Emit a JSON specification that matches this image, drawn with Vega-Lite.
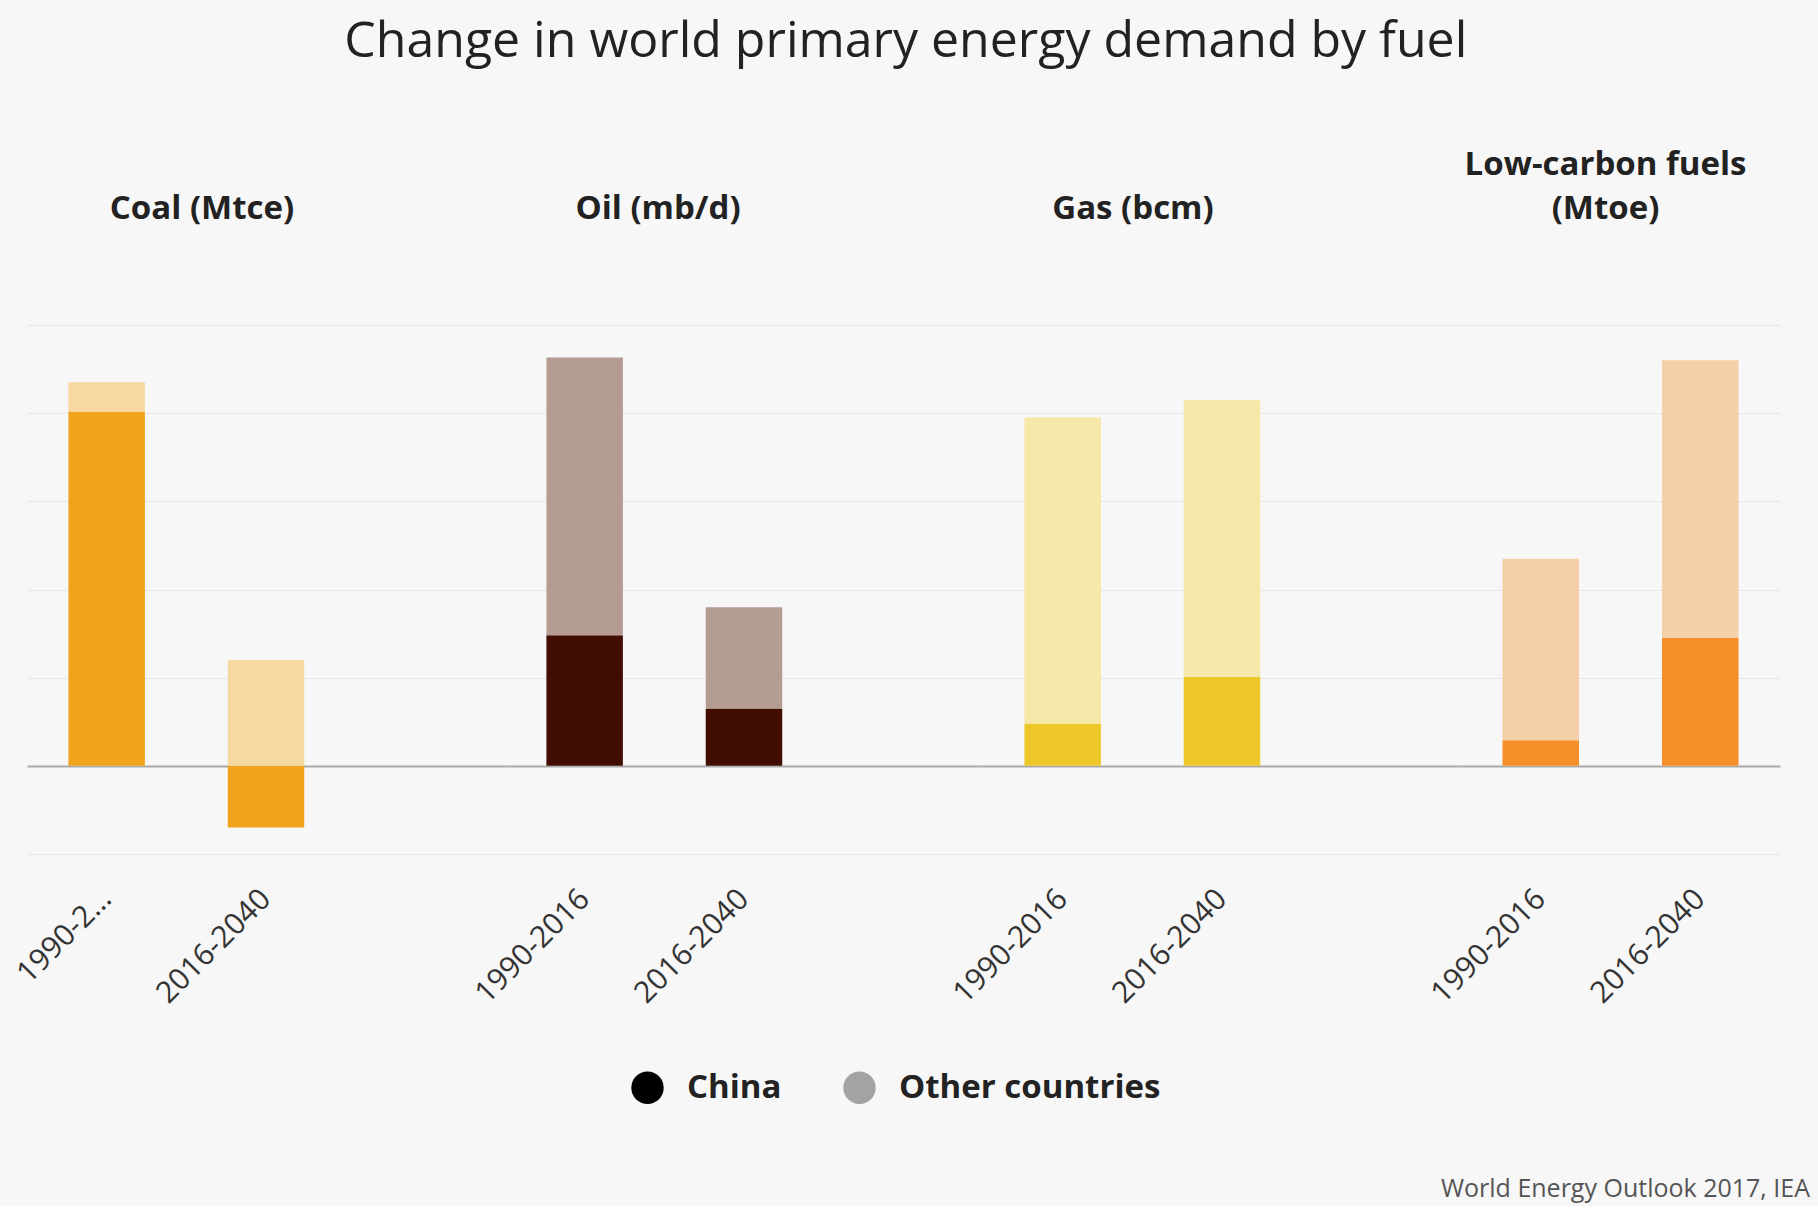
{
  "$schema": "https://vega.github.io/schema/vega-lite/v6.json",
  "description": "Change in world primary energy demand by fuel, China vs other countries",
  "background": "#f7f7f7",
  "padding": {"left": 11, "top": 17, "right": 36, "bottom": 4},
  "datasets": {
    "energy": [
      {"fuel": "Coal", "period": "1990-2016", "region": "China", "change": 4.02},
      {"fuel": "Coal", "period": "1990-2016", "region": "Other countries", "change": 0.33},
      {"fuel": "Coal", "period": "2016-2040", "region": "China", "change": -0.70},
      {"fuel": "Coal", "period": "2016-2040", "region": "Other countries", "change": 1.20},
      {"fuel": "Oil", "period": "1990-2016", "region": "China", "change": 1.48},
      {"fuel": "Oil", "period": "1990-2016", "region": "Other countries", "change": 3.15},
      {"fuel": "Oil", "period": "2016-2040", "region": "China", "change": 0.65},
      {"fuel": "Oil", "period": "2016-2040", "region": "Other countries", "change": 1.15},
      {"fuel": "Gas", "period": "1990-2016", "region": "China", "change": 0.48},
      {"fuel": "Gas", "period": "1990-2016", "region": "Other countries", "change": 3.47},
      {"fuel": "Gas", "period": "2016-2040", "region": "China", "change": 1.01},
      {"fuel": "Gas", "period": "2016-2040", "region": "Other countries", "change": 3.14},
      {"fuel": "Low-carbon", "period": "1990-2016", "region": "China", "change": 0.29},
      {"fuel": "Low-carbon", "period": "1990-2016", "region": "Other countries", "change": 2.06},
      {"fuel": "Low-carbon", "period": "2016-2040", "region": "China", "change": 1.45},
      {"fuel": "Low-carbon", "period": "2016-2040", "region": "Other countries", "change": 3.15}
    ]
  },
  "title": {
    "text": "World Energy Outlook 2017, IEA",
    "orient": "bottom",
    "anchor": "end",
    "fontSize": 25,
    "fontWeight": "normal",
    "color": "#555555",
    "dx": 30,
    "offset": 72
  },
  "vconcat": [
    {
      "title": {
        "text": "Change in world primary energy demand by fuel",
        "anchor": "middle",
        "dx": 10,
        "fontSize": 50,
        "fontWeight": "normal",
        "color": "#222222",
        "offset": 82
      },
      "spacing": 0,
      "bounds": "flush",
      "resolve": {"scale": {"fill": "independent"}},
      "hconcat": [
        {
          "width": 478,
          "height": 529,
          "title": {"text": "Coal (Mtce)", "dx": -64},
          "data": {"name": "energy"},
          "transform": [{"filter": "datum.fuel === 'Coal'"}],
          "layer": [
            {
              "mark": "bar",
              "encoding": {
                "x": {
                  "field": "period",
                  "type": "nominal",
                  "scale": {"domain": ["1990-2016", "2016-2040"], "paddingInner": 0.52, "paddingOuter": 0.76, "align": 0.171},
                  "axis": {"labelExpr": "datum.value === '1990-2016' ? '1990-2…' : datum.value"}
                },
                "y": {
                  "field": "change",
                  "type": "quantitative",
                  "stack": "zero",
                  "scale": {"domain": [-1, 5], "nice": false},
                  "axis": {
                    "values": [-1, 0, 1, 2, 3, 4, 5],
                    "gridColor": {"condition": {"test": "datum.value === 0", "value": "#aaaaaa"}, "value": "#e6e6e6"},
                    "gridWidth": {"condition": {"test": "datum.value === 0", "value": 2}, "value": 1}
                  }
                },
                "fill": {
                  "field": "region",
                  "type": "nominal",
                  "scale": {"domain": ["China", "Other countries"], "range": ["#f0a41c", "#f6d8a0"]},
                  "legend": null
                },
                "order": {"field": "region", "sort": "ascending"}
              }
            },
            {
              "mark": {"type": "point", "filled": true, "opacity": 0},
              "encoding": {
                "x": {"field": "period", "type": "nominal"},
                "y": {"field": "change", "type": "quantitative"},
                "color": {
                  "field": "region",
                  "type": "nominal",
                  "scale": {"domain": ["China", "Other countries"], "range": ["#000000", "#a3a3a3"]},
                  "legend": {"title": null}
                }
              }
            }
          ]
        },
        {
          "width": 478,
          "height": 529,
          "title": {"text": "Oil (mb/d)", "dx": -86},
          "data": {"name": "energy"},
          "transform": [{"filter": "datum.fuel === 'Oil'"}],
          "mark": "bar",
          "encoding": {
            "x": {
              "field": "period",
              "type": "nominal",
              "scale": {"domain": ["1990-2016", "2016-2040"], "paddingInner": 0.52, "paddingOuter": 0.76, "align": 0.171}
            },
            "y": {
              "field": "change",
              "type": "quantitative",
              "stack": "zero",
              "scale": {"domain": [-1, 5], "nice": false},
              "axis": {
                "values": [-1, 0, 1, 2, 3, 4, 5],
                "gridColor": {"condition": {"test": "datum.value === 0", "value": "#aaaaaa"}, "value": "#e6e6e6"},
                "gridWidth": {"condition": {"test": "datum.value === 0", "value": 2}, "value": 1}
              }
            },
            "fill": {
              "field": "region",
              "type": "nominal",
              "scale": {"domain": ["China", "Other countries"], "range": ["#410d02", "#b49c92"]},
              "legend": null
            },
            "order": {"field": "region", "sort": "ascending"}
          }
        },
        {
          "width": 478,
          "height": 529,
          "title": {"text": "Gas (bcm)", "dx": -89},
          "data": {"name": "energy"},
          "transform": [{"filter": "datum.fuel === 'Gas'"}],
          "mark": "bar",
          "encoding": {
            "x": {
              "field": "period",
              "type": "nominal",
              "scale": {"domain": ["1990-2016", "2016-2040"], "paddingInner": 0.52, "paddingOuter": 0.76, "align": 0.171}
            },
            "y": {
              "field": "change",
              "type": "quantitative",
              "stack": "zero",
              "scale": {"domain": [-1, 5], "nice": false},
              "axis": {
                "values": [-1, 0, 1, 2, 3, 4, 5],
                "gridColor": {"condition": {"test": "datum.value === 0", "value": "#aaaaaa"}, "value": "#e6e6e6"},
                "gridWidth": {"condition": {"test": "datum.value === 0", "value": 2}, "value": 1}
              }
            },
            "fill": {
              "field": "region",
              "type": "nominal",
              "scale": {"domain": ["China", "Other countries"], "range": ["#eec728", "#f5e8a8"]},
              "legend": null
            },
            "order": {"field": "region", "sort": "ascending"}
          }
        },
        {
          "width": 319,
          "height": 529,
          "title": {"text": ["Low-carbon fuels", "(Mtoe)"], "dx": -15},
          "data": {"name": "energy"},
          "transform": [{"filter": "datum.fuel === 'Low-carbon'"}],
          "mark": "bar",
          "encoding": {
            "x": {
              "field": "period",
              "type": "nominal",
              "scale": {"domain": ["1990-2016", "2016-2040"], "paddingInner": 0.52, "paddingOuter": 0.26, "align": 0.5}
            },
            "y": {
              "field": "change",
              "type": "quantitative",
              "stack": "zero",
              "scale": {"domain": [-1, 5], "nice": false},
              "axis": {
                "values": [-1, 0, 1, 2, 3, 4, 5],
                "gridColor": {"condition": {"test": "datum.value === 0", "value": "#aaaaaa"}, "value": "#e6e6e6"},
                "gridWidth": {"condition": {"test": "datum.value === 0", "value": 2}, "value": 1}
              }
            },
            "fill": {
              "field": "region",
              "type": "nominal",
              "scale": {"domain": ["China", "Other countries"], "range": ["#f68e2a", "#f5cfa7"]},
              "legend": null
            },
            "order": {"field": "region", "sort": "ascending"}
          }
        }
      ]
    }
  ],
  "config": {
    "font": "Open Sans",
    "view": {"stroke": null},
    "title": {"font": "Open Sans", "color": "#222222", "fontSize": 33, "fontWeight": "bold", "anchor": "middle", "offset": 99, "lineHeight": 44},
    "axisX": {
      "title": null,
      "labelAngle": -45,
      "labelAlign": "right",
      "labelBaseline": "middle",
      "labelFont": "Open Sans",
      "labelFontSize": 30,
      "labelColor": "#333333",
      "labelPadding": 40,
      "labelLimit": 300,
      "domain": false,
      "ticks": false,
      "grid": false
    },
    "axisY": {"title": null, "labels": false, "ticks": false, "domain": false, "grid": true},
    "legend": {
      "orient": "bottom",
      "direction": "horizontal",
      "labelFont": "Open Sans",
      "labelFontWeight": "bold",
      "labelFontSize": 33,
      "labelColor": "#222222",
      "labelLimit": 500,
      "symbolType": "circle",
      "symbolSize": 1050,
      "symbolOpacity": 1,
      "symbolStrokeWidth": 0,
      "columnPadding": 61,
      "labelOffset": 23,
      "offset": 62,
      "layout": {"bottom": {"anchor": "middle"}}
    }
  }
}
